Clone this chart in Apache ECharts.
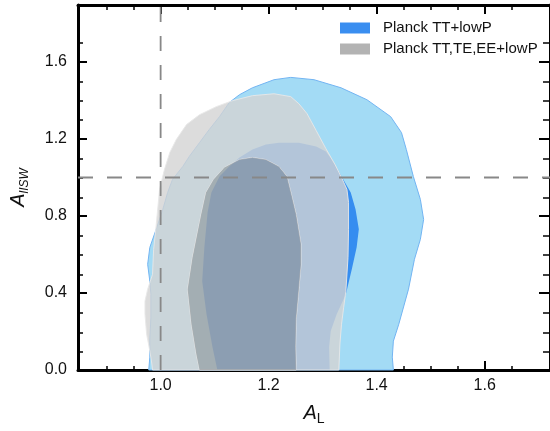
<!DOCTYPE html>
<html lang="en">
<head>
<meta charset="UTF-8">
<title>A_L - A_lISW</title>
<script src="https://cdn.jsdelivr.net/npm/echarts@6/dist/echarts.min.js"></script>
<style>
    body { margin: 0; background: #fff; }
    #chart { width: 550px; height: 431px; }
</style>
</head>
<body>
<div id="chart"></div>
<script>
// axes
const xRange = [0.847, 1.721];
const yRange = [0, 1.896];
const xMajor = [1.0, 1.2, 1.4, 1.6];
const xMinor = [0.9, 0.95, 1.05, 1.1, 1.15, 1.25, 1.3, 1.35, 1.45, 1.5, 1.55, 1.65];
const yMajor = [0.0, 0.4, 0.8, 1.2, 1.6];
const yMinor = [0.1, 0.2, 0.3, 0.5, 0.6, 0.7, 0.9, 1.0, 1.1, 1.3, 1.4, 1.5, 1.7];
const refAL = 1.0;
const refISW = 1.0;

const legendNames = ['Planck TT+lowP', 'Planck TT,TE,EE+lowP'];

// contour outlines, [A_L, A_lISW]
const ttOuter = [[0.978,0],[0.980,0.067],[0.980,0.161],[0.982,0.275],[0.982,0.394],[0.980,0.461],[0.976,0.549],[0.980,0.637],[0.993,0.741],[1.004,0.834],[1.013,0.922],[1.022,0.990],[1.041,1.057],[1.053,1.109],[1.072,1.181],[1.090,1.249],[1.109,1.316],[1.127,1.389],[1.146,1.430],[1.170,1.466],[1.210,1.508],[1.241,1.520],[1.284,1.508],[1.334,1.466],[1.382,1.404],[1.426,1.316],[1.446,1.233],[1.455,1.145],[1.468,1.005],[1.481,0.886],[1.487,0.782],[1.481,0.679],[1.470,0.575],[1.459,0.420],[1.441,0.238],[1.431,0.150],[1.429,0.067],[1.431,0]];
const ttInner = [[1.105,0],[1.096,0.119],[1.085,0.290],[1.077,0.461],[1.081,0.637],[1.087,0.819],[1.094,0.922],[1.109,1.005],[1.127,1.057],[1.146,1.104],[1.170,1.145],[1.195,1.171],[1.219,1.181],[1.256,1.181],[1.288,1.161],[1.306,1.135],[1.317,1.093],[1.335,1.005],[1.352,0.922],[1.361,0.834],[1.367,0.731],[1.363,0.637],[1.354,0.523],[1.343,0.394],[1.326,0.290],[1.315,0.202],[1.312,0.119],[1.313,0]];
const allOuter = [[0.985,0],[0.983,0.047],[0.980,0.098],[0.974,0.187],[0.971,0.290],[0.971,0.358],[0.976,0.420],[0.985,0.497],[0.987,0.627],[0.991,0.731],[0.998,0.938],[1.007,1.041],[1.017,1.130],[1.029,1.197],[1.048,1.275],[1.072,1.326],[1.103,1.368],[1.133,1.399],[1.170,1.425],[1.210,1.435],[1.241,1.420],[1.256,1.383],[1.271,1.332],[1.288,1.244],[1.306,1.150],[1.323,1.067],[1.335,1.000],[1.345,0.938],[1.348,0.870],[1.348,0.731],[1.347,0.585],[1.343,0.409],[1.339,0.326],[1.335,0.238],[1.332,0.135],[1.330,0]];
const allInner = [[1.072,0],[1.066,0.083],[1.057,0.238],[1.050,0.420],[1.059,0.585],[1.075,0.808],[1.084,0.922],[1.098,0.990],[1.118,1.052],[1.146,1.093],[1.170,1.104],[1.195,1.093],[1.219,1.057],[1.234,1.005],[1.243,0.902],[1.251,0.808],[1.260,0.653],[1.260,0.549],[1.256,0.420],[1.251,0.264],[1.250,0.119],[1.251,0]];

const font = 'Liberation Sans';

function signedArea(pts) {
    let s = 0;
    for (let i = 0; i < pts.length; i++) {
        const a = pts[i], b = pts[(i + 1) % pts.length];
        s += a[0] * b[1] - b[0] * a[1];
    }
    return s;
}
function toPath(pts) {
    return pts.map((c, i) => (i ? 'L' : 'M') + c[0].toFixed(2) + ' ' + c[1].toFixed(2)).join(' ') + ' Z';
}

// axis helpers: grid 0 carries major ticks, grid 1 the minor ones
function xAxis(grid, pos, ticks, len, width, extra) {
    return Object.assign({
        type: 'value', gridIndex: grid, position: pos, min: xRange[0], max: xRange[1],
        axisLine: { show: grid === 0, onZero: false, lineStyle: { color: '#000', width: 3 } },
        axisTick: { show: true, inside: true, length: len, customValues: ticks, lineStyle: { color: '#000', width: width } },
        axisLabel: { show: false },
        splitLine: { show: false }
    }, extra || {});
}
function yAxis(grid, pos, ticks, len, width, extra) {
    return Object.assign({
        type: 'value', gridIndex: grid, position: pos, min: yRange[0], max: yRange[1],
        axisLine: { show: grid === 0, onZero: false, lineStyle: { color: '#000', width: 3 } },
        axisTick: { show: true, inside: true, length: len, customValues: ticks, lineStyle: { color: '#000', width: width } },
        axisLabel: { show: false },
        splitLine: { show: false }
    }, extra || {});
}

const tickLabel = { show: true, fontFamily: font, fontSize: 16, color: '#111', formatter: v => v.toFixed(1) };

const chart = echarts.init(document.getElementById('chart'));

const option = {
    animation: false,
    grid: [
        { left: 78, right: -2, top: 5, bottom: 60 },
        { left: 78, right: -2, top: 5, bottom: 60 }
    ],
    legend: {
        data: legendNames.map(n => ({ name: n, icon: 'rect' })),
        orient: 'vertical', left: 335, top: 15,
        itemWidth: 30, itemHeight: 11, itemGap: 5,
        selectedMode: false,
        textStyle: { fontFamily: font, fontSize: 15, color: '#111', lineHeight: 16, padding: [0, 0, 0, 8] }
    },
    xAxis: [
        xAxis(0, 'bottom', xMajor, 9, 2, {
            axisLabel: Object.assign({ customValues: xMajor, margin: 8 }, tickLabel),
            name: '{a|A}{s|L}', nameLocation: 'middle', nameGap: 30,
            nameTextStyle: { rich: {
                a: { fontFamily: font, fontStyle: 'italic', fontSize: 20, lineHeight: 26, color: '#111' },
                s: { fontFamily: font, fontSize: 14, lineHeight: 20, verticalAlign: 'bottom', color: '#111' }
            } }
        }),
        xAxis(0, 'top', xMajor, 9, 2),
        xAxis(1, 'bottom', xMinor, 5, 1.5),
        xAxis(1, 'top', xMinor, 5, 1.5)
    ],
    yAxis: [
        yAxis(0, 'left', yMajor, 9, 2, {
            axisLabel: Object.assign({ customValues: yMajor, margin: 11 }, tickLabel),
            name: '{a|A}{s|lISW}', nameLocation: 'middle', nameGap: 47, nameRotate: 90,
            nameTextStyle: { rich: {
                a: { fontFamily: font, fontStyle: 'italic', fontSize: 20, lineHeight: 26, color: '#111' },
                s: { fontFamily: font, fontStyle: 'italic', fontSize: 12, lineHeight: 18, verticalAlign: 'bottom', color: '#111' }
            } }
        }),
        yAxis(0, 'right', yMajor, 11, 2),
        yAxis(1, 'left', yMinor, 5, 1.5),
        yAxis(1, 'right', yMinor, 7, 1.5)
    ],
    series: [
        {
            name: legendNames[0], type: 'custom', xAxisIndex: 0, yAxisIndex: 0,
            itemStyle: { color: '#3a8ef0' },
            data: [0, 1],
            renderItem: function (params, api) {
                if (params.dataIndex === 0) {
                    return { type: 'polygon', shape: { points: ttOuter.map(p => api.coord(p)) },
                        style: { fill: '#a3dbf5', stroke: '#72b4f2', lineWidth: 1 } };
                }
                return { type: 'polygon', shape: { points: ttInner.map(p => api.coord(p)) },
                    style: { fill: '#358df0' } };
            }
        },
        {
            name: legendNames[1], type: 'custom', xAxisIndex: 0, yAxisIndex: 0,
            itemStyle: { color: '#b3b3b3' },
            data: [0, 1],
            renderItem: function (params, api) {
                const outer = allOuter.map(p => api.coord(p));
                const inner = allInner.map(p => api.coord(p));
                if (params.dataIndex === 0) {
                    const hole = inner.slice();
                    if (signedArea(hole) * signedArea(outer) > 0) hole.reverse();
                    return { type: 'path', shape: { pathData: toPath(outer) + ' ' + toPath(hole) },
                        style: { fill: 'rgba(211,211,211,0.8)', stroke: 'rgba(232,232,232,0.9)', lineWidth: 1 } };
                }
                return { type: 'polygon', shape: { points: inner },
                    style: { fill: 'rgba(162,162,162,0.8)' } };
            }
        },
        {
            name: 'refAL', type: 'line', xAxisIndex: 0, yAxisIndex: 0, silent: true,
            symbol: 'none', data: [[refAL, yRange[0]], [refAL, yRange[1]]],
            lineStyle: { color: '#888', width: 1.8, type: [15, 14] }
        },
        {
            name: 'refISW', type: 'line', xAxisIndex: 0, yAxisIndex: 0, silent: true,
            symbol: 'none', data: [[xRange[0], refISW], [xRange[1], refISW]],
            lineStyle: { color: '#888', width: 1.8, type: [15, 14] }
        }
    ]
};

chart.setOption(option);
</script>
</body>
</html>
